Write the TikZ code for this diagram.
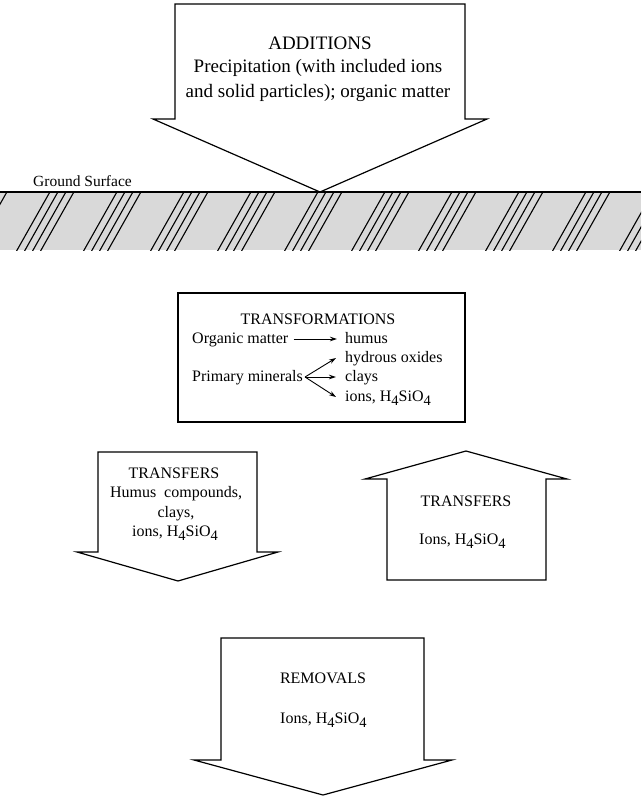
\documentclass[tikz,border=0pt]{standalone}
\usepackage{fontspec}
\setmainfont{Liberation Serif}
\usetikzlibrary{arrows.meta}
\newcommand{\mysub}[1]{\raisebox{-0.55ex}{\fontsize{14.5}{14.5}\selectfont #1}}
\begin{document}
\begin{tikzpicture}[x=1pt,y=-1pt,
  shapeline/.style={draw=black,line width=1.2pt,fill=white,line join=miter},
  txt/.style={anchor=base,inner sep=0pt,font=\fontsize{16}{19}\selectfont},
  txtl/.style={anchor=base west,inner sep=0pt,font=\fontsize{16}{19}\selectfont},
  bigtxt/.style={anchor=base,inner sep=0pt,font=\fontsize{19}{23}\selectfont},
  arr/.style={line width=0.9pt,-{Stealth[length=7pt,width=4.5pt]}},
  hatchline/.style={line width=1.1pt,black}]
\useasboundingbox (0,0) rectangle (641,800);
\fill[white] (0,0) rectangle (641,800);

% ground band
\begin{scope}
  \clip (0,192) rectangle (641,250);
  \fill[black!15] (0,192) rectangle (641,250);
  \foreach \k in {-1,...,9}{
    \foreach \i in {0,1,2,3}{
      \pgfmathsetmacro{\tx}{50+67*\k+8*\i}
      \draw[hatchline] (\tx-34,252) -- (\tx+1,190);
    }
  }
\end{scope}
\draw[line width=1.3pt] (0,192) -- (641,192);
\node[anchor=base west,inner sep=0pt,font=\fontsize{15.5}{18}\selectfont] (gs) at (33,186) {Ground Surface};

% additions arrow
\draw[shapeline] (175,4) -- (465,4) -- (465,119) -- (487,119) -- (320,192) -- (153,119) -- (175,119) -- cycle;
\node[bigtxt] (addA) at (320,49) {ADDITIONS};
\node[bigtxt] (addB) at (318,73) {Precipitation (with included ions};
\node[bigtxt] (addC) at (318,97) {and solid particles); organic matter};

% transformations box
\draw[line width=1.1pt] (178,293) rectangle (465,422);
\node[txt] (trT) at (318,324) {TRANSFORMATIONS};
\node[txtl] (om) at (192,343) {Organic matter};
\node[txtl] (hu) at (345,343) {humus};
\node[txtl] (hy) at (345,362) {hydrous oxides};
\node[txtl] (pm) at (192,381) {Primary minerals};
\node[txtl] (cl) at (345,381) {clays};
\node[txtl] (io) at (345,401) {ions, H\mysub{4}SiO\mysub{4}};
\draw[arr] ([xshift=5pt,yshift=4pt]om.base east) -- ([xshift=-8pt,yshift=4pt]hu.base west);
\draw[arr] ([xshift=2pt,yshift=4pt]pm.base east) -- ([xshift=-9pt,yshift=4pt]hy.base west);
\draw[arr] ([xshift=2pt,yshift=4pt]pm.base east) -- ([xshift=-9pt,yshift=4pt]cl.base west);
\draw[arr] ([xshift=2pt,yshift=4pt]pm.base east) -- ([xshift=-9pt,yshift=4pt]io.base west);

% left transfers arrow (down)
\draw[shapeline] (98,452) -- (257,452) -- (257,552) -- (278,552) -- (178,581) -- (77,552) -- (98,552) -- cycle;
\node[txt] (tlA) at (174,478) {TRANSFERS};
\node[txt] (tlB) at (176,497) {Humus~~compounds,};
\node[txt] (tlC) at (176,517) {clays,};
\node[txt] (tlD) at (175,536) {ions, H\mysub{4}SiO\mysub{4}};

% right transfers arrow (up)
\draw[shapeline] (466,451) -- (567,479) -- (546,479) -- (546,580) -- (387,580) -- (387,479) -- (365,479) -- cycle;
\node[txt] (trA) at (466,506) {TRANSFERS};
\node[txtl] (trB) at (419,544) {Ions, H\mysub{4}SiO\mysub{4}};

% removals arrow
\draw[shapeline] (221,638) -- (424,638) -- (424,760) -- (452,760) -- (323,795) -- (194,760) -- (221,760) -- cycle;
\node[txt] (rmA) at (323,683) {REMOVALS};
\node[txtl] (rmB) at (280,723) {Ions, H\mysub{4}SiO\mysub{4}};
\end{tikzpicture}
\end{document}
